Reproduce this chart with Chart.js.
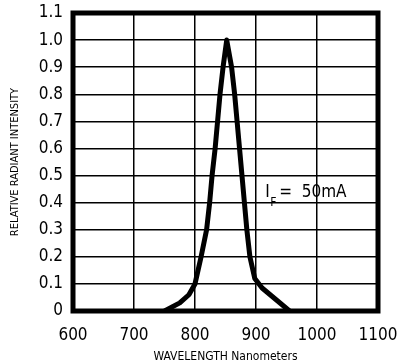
<!DOCTYPE html>
<html>
<head>
<meta charset="utf-8">
<script src="https://cdn.jsdelivr.net/npm/chart.js@4.4.1/dist/chart.umd.min.js"></script>
<style>
  html, body { margin: 0; padding: 0; background: #fff; }
  #contenedor { width: 400px; height: 364px; }
</style>
</head>
<body>
<div id="contenedor"><canvas id="espectroChart"></canvas></div>
<script>
// Curva espectral del emisor (longitud de onda en nm, intensidad relativa)
const longitudesOnda = [750, 775, 790, 800, 810, 819, 824, 828, 833, 837, 841, 846, 852, 860, 865, 869, 873, 877, 881, 885, 890, 898, 910, 955];
const intensidades   = [0, 0.03, 0.06, 0.10, 0.20, 0.30, 0.40, 0.50, 0.60, 0.70, 0.80, 0.90, 1.00, 0.90, 0.80, 0.70, 0.60, 0.50, 0.40, 0.30, 0.20, 0.12, 0.085, 0];

// Ejes
const ticksX = [600, 700, 800, 900, 1000, 1100];
const ticksY = [0, 0.1, 0.2, 0.3, 0.4, 0.5, 0.6, 0.7, 0.8, 0.9, 1.0, 1.1];

const fuente = "'Liberation Sans Narrow', 'DejaVu Sans Condensed', Arial, sans-serif";

// Marco grueso alrededor del area y la nota de corriente
const marcoYNota = {
    id: 'marcoYNota',
    afterDraw(chart) {
        const ctx = chart.ctx;
        const a = chart.chartArea;
        ctx.save();
        ctx.strokeStyle = '#000';
        ctx.lineWidth = 5;
        ctx.strokeRect(a.left, a.top, a.right - a.left, a.bottom - a.top);

        const x = chart.scales.x.getPixelForValue(915);
        const y = chart.scales.y.getPixelForValue(0.42);
        ctx.fillStyle = '#000';
        ctx.textBaseline = 'alphabetic';
        ctx.font = '17px ' + fuente;
        ctx.fillText('I', x, y);
        ctx.font = '12px ' + fuente;
        ctx.fillText('F', x + 5, y + 9);
        ctx.font = '17px ' + fuente;
        ctx.fillText('=  50mA', x + 14, y);
        ctx.restore();
    }
};

const ctxEspectro = document.getElementById('espectroChart').getContext('2d');
window.espectroChart = new Chart(ctxEspectro, {
    type: 'line',
    data: {
        datasets: [{
            data: longitudesOnda.map((l, i) => ({ x: l, y: intensidades[i] })),
            borderColor: '#000',
            borderWidth: 5,
            borderJoinStyle: 'round',
            pointRadius: 0,
            tension: 0,
            fill: false
        }]
    },
    options: {
        responsive: true,
        maintainAspectRatio: false,
        animation: false,
        layout: {
            padding: { left: 0, right: 22, top: 13, bottom: 0 }
        },
        scales: {
            x: {
                type: 'linear',
                min: 600,
                max: 1100,
                afterBuildTicks: scale => { scale.ticks = ticksX.map(v => ({ value: v })); },
                afterFit: scale => {
                    scale.height = 53;
                    scale.paddingLeft = 0;
                    scale.paddingRight = 0;
                },
                grid: { color: '#000', lineWidth: 1.5, drawTicks: false },
                border: { display: false },
                ticks: {
                    color: '#000',
                    padding: 14,
                    maxRotation: 0,
                    font: { family: fuente, size: 17 },
                    callback: v => String(v)
                },
                title: {
                    display: true,
                    text: 'WAVELENGTH Nanometers',
                    color: '#000',
                    font: { family: fuente, size: 12 },
                    padding: { top: 0, bottom: 0 }
                }
            },
            y: {
                type: 'linear',
                min: 0,
                max: 1.1,
                afterBuildTicks: scale => { scale.ticks = ticksY.map(v => ({ value: v })); },
                afterFit: scale => {
                    scale.width = 73;
                    scale.paddingTop = 0;
                    scale.paddingBottom = 0;
                },
                grid: { color: '#000', lineWidth: 1.5, drawTicks: false },
                border: { display: false },
                ticks: {
                    color: '#000',
                    padding: 10,
                    font: { family: fuente, size: 17 },
                    callback: v => v === 0 ? '0' : v.toFixed(1)
                },
                title: {
                    display: true,
                    text: 'RELATIVE RADIANT INTENSITY',
                    color: '#000',
                    font: { family: fuente, size: 11 },
                    padding: { top: 9, bottom: 0 }
                }
            }
        },
        plugins: {
            legend: { display: false },
            tooltip: { enabled: false }
        }
    },
    plugins: [marcoYNota]
});
</script>
</body>
</html>
